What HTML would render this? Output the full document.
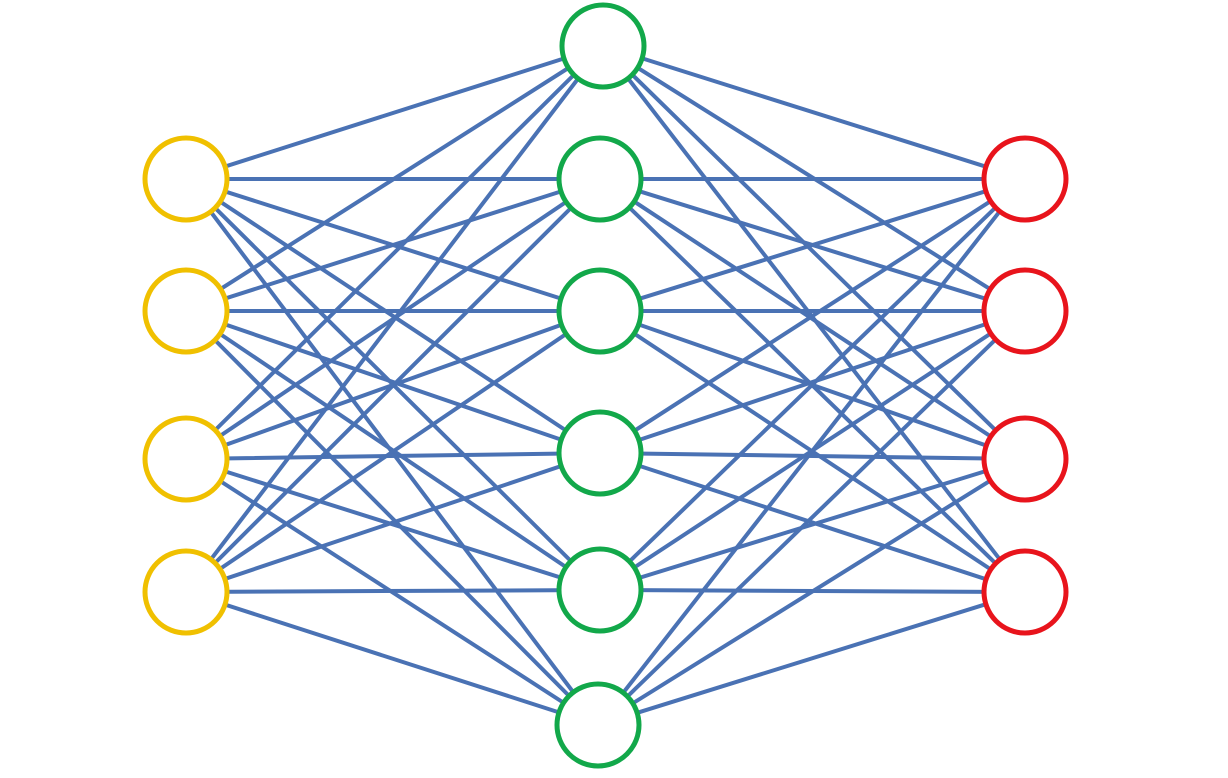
<!DOCTYPE html>
<html><head><meta charset="utf-8"><style>html,body{margin:0;padding:0;background:#fff}svg{display:block}</style></head>
<body>
<svg width="1228" height="778" viewBox="0 0 1228 778" xmlns="http://www.w3.org/2000/svg">
<g stroke="#4a72b4" stroke-width="4" stroke-linecap="round">
<line x1="186" y1="179" x2="603" y2="46"/><line x1="186" y1="179" x2="600" y2="179"/><line x1="186" y1="179" x2="600" y2="311"/><line x1="186" y1="179" x2="600" y2="453"/><line x1="186" y1="179" x2="600" y2="590"/><line x1="186" y1="179" x2="598" y2="725"/>
<line x1="186" y1="311" x2="603" y2="46"/><line x1="186" y1="311" x2="600" y2="179"/><line x1="186" y1="311" x2="600" y2="311"/><line x1="186" y1="311" x2="600" y2="453"/><line x1="186" y1="311" x2="600" y2="590"/><line x1="186" y1="311" x2="598" y2="725"/>
<line x1="186" y1="459" x2="603" y2="46"/><line x1="186" y1="459" x2="600" y2="179"/><line x1="186" y1="459" x2="600" y2="311"/><line x1="186" y1="459" x2="600" y2="453"/><line x1="186" y1="459" x2="600" y2="590"/><line x1="186" y1="459" x2="598" y2="725"/>
<line x1="186" y1="592" x2="603" y2="46"/><line x1="186" y1="592" x2="600" y2="179"/><line x1="186" y1="592" x2="600" y2="311"/><line x1="186" y1="592" x2="600" y2="453"/><line x1="186" y1="592" x2="600" y2="590"/><line x1="186" y1="592" x2="598" y2="725"/>
<line x1="603" y1="46" x2="1025" y2="179"/><line x1="603" y1="46" x2="1025" y2="311"/><line x1="603" y1="46" x2="1025" y2="459"/><line x1="603" y1="46" x2="1025" y2="592"/>
<line x1="600" y1="179" x2="1025" y2="179"/><line x1="600" y1="179" x2="1025" y2="311"/><line x1="600" y1="179" x2="1025" y2="459"/><line x1="600" y1="179" x2="1025" y2="592"/>
<line x1="600" y1="311" x2="1025" y2="179"/><line x1="600" y1="311" x2="1025" y2="311"/><line x1="600" y1="311" x2="1025" y2="459"/><line x1="600" y1="311" x2="1025" y2="592"/>
<line x1="600" y1="453" x2="1025" y2="179"/><line x1="600" y1="453" x2="1025" y2="311"/><line x1="600" y1="453" x2="1025" y2="459"/><line x1="600" y1="453" x2="1025" y2="592"/>
<line x1="600" y1="590" x2="1025" y2="179"/><line x1="600" y1="590" x2="1025" y2="311"/><line x1="600" y1="590" x2="1025" y2="459"/><line x1="600" y1="590" x2="1025" y2="592"/>
<line x1="598" y1="725" x2="1025" y2="179"/><line x1="598" y1="725" x2="1025" y2="311"/><line x1="598" y1="725" x2="1025" y2="459"/><line x1="598" y1="725" x2="1025" y2="592"/>
</g>
<g fill="#fff" stroke-width="5">
<g stroke="#f0c000">
<circle cx="186" cy="179" r="41"/><circle cx="186" cy="311" r="41"/><circle cx="186" cy="459" r="41"/><circle cx="186" cy="592" r="41"/>
</g>
<g stroke="#12a84a">
<circle cx="603" cy="46" r="41"/><circle cx="600" cy="179" r="41"/><circle cx="600" cy="311" r="41"/><circle cx="600" cy="453" r="41"/><circle cx="600" cy="590" r="41"/><circle cx="598" cy="725" r="41"/>
</g>
<g stroke="#e8141c">
<circle cx="1025" cy="179" r="41"/><circle cx="1025" cy="311" r="41"/><circle cx="1025" cy="459" r="41"/><circle cx="1025" cy="592" r="41"/>
</g>
</g>
</svg>
</body></html>
